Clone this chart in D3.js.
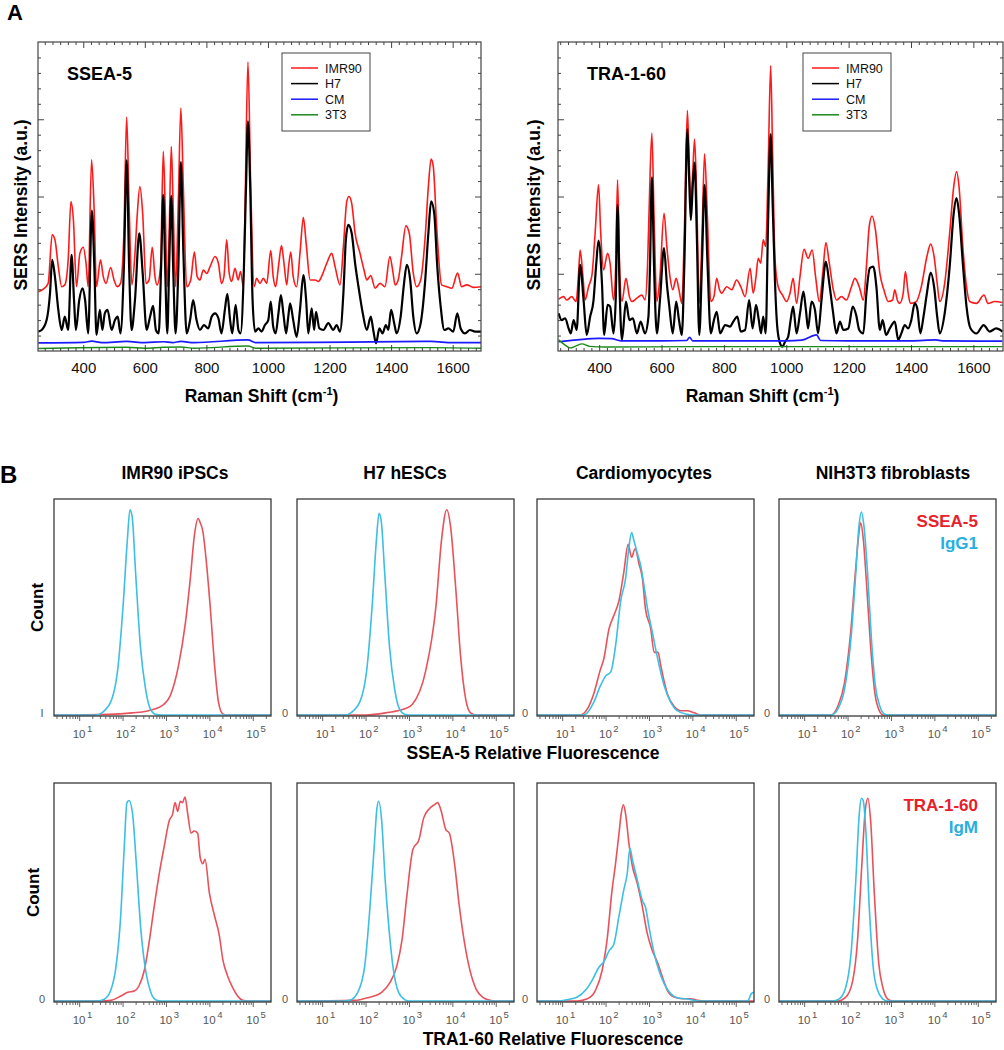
<!DOCTYPE html>
<html><head><meta charset="utf-8">
<script src="https://cdn.jsdelivr.net/npm/d3@7"></script>
<style>body{margin:0;background:#fff}svg{display:block}text{font-family:Arial,"Liberation Sans",sans-serif}</style>
</head><body><svg id="c" width="1004" height="1050"></svg>
<script>
// ---------------- DATA : Panel A (Raman shift cm-1, SERS intensity a.u.) ----------------
const ramanTicks = [400, 600, 800, 1000, 1200, 1400, 1600];
const seriesNames = ["IMR90", "H7", "CM", "3T3"];
const ssea5_IMR90 = [[254,19.2],[270,20.0],[286,21.9],[299,37.6],[308,36.0],[319,27.3],[330,20.8],[340,21.4],[351,29.5],[360,48.4],[368,42.4],[378,20.8],[389,31.6],[400,33.6],[409,28.4],[416,20.8],[427,61.9],[435,46.8],[443,20.8],[456,29.5],[465,24.1],[474,21.9],[489,27.0],[500,23.0],[510,20.8],[521,21.9],[532,38.1],[541,75.7],[549,46.8],[558,21.4],[568,31.6],[575,43.5],[584,53.2],[593,44.6],[604,21.9],[614,23.0],[624,33.6],[633,24.1],[640,21.4],[651,27.3],[660,64.6],[666,46.8],[673,20.8],[679,38.1],[686,66.2],[692,46.8],[700,20.8],[709,48.9],[717,78.6],[725,53.2],[736,20.8],[749,23.0],[761,32.0],[770,24.1],[779,23.0],[790,26.2],[801,25.1],[812,27.3],[828,30.6],[839,28.4],[849,21.9],[857,24.1],[866,36.0],[874,25.2],[882,22.5],[893,26.8],[903,23.0],[911,25.7],[920,20.8],[926,48.9],[935,93.5],[944,53.2],[955,20.8],[963,23.5],[974,21.9],[985,23.5],[996,21.9],[1009,32.5],[1017,24.1],[1025,20.8],[1034,27.3],[1044,34.1],[1052,28.4],[1061,21.4],[1067,27.3],[1074,32.0],[1082,24.1],[1093,20.8],[1104,31.6],[1115,43.2],[1124,34.9],[1137,23.0],[1153,23.0],[1164,22.5],[1174,24.1],[1191,28.4],[1207,31.6],[1218,27.3],[1234,21.4],[1245,33.8],[1256,48.4],[1263,50.0],[1272,47.8],[1283,38.1],[1299,31.6],[1312,26.2],[1321,23.0],[1334,24.4],[1348,20.3],[1364,21.9],[1380,20.8],[1396,30.6],[1405,26.2],[1413,21.4],[1423,23.0],[1434,30.6],[1448,40.5],[1459,38.1],[1472,25.2],[1483,20.8],[1496,23.0],[1510,36.0],[1521,53.2],[1530,62.1],[1537,59.7],[1548,40.3],[1564,21.4],[1581,20.8],[1597,20.3],[1616,25.2],[1629,20.8],[1646,21.4],[1667,20.6],[1692,20.8]];
const ssea5_H7 = [[254,6.3],[265,6.8],[281,10.0],[292,18.7],[299,29.5],[308,24.1],[319,13.3],[330,6.8],[340,11.1],[351,6.8],[362,31.1],[370,16.5],[376,6.8],[387,16.5],[398,20.3],[406,16.5],[416,5.7],[428,45.4],[436,27.3],[443,5.2],[454,13.3],[462,6.8],[470,12.2],[479,13.3],[492,6.8],[503,10.0],[512,11.1],[521,5.7],[532,27.3],[541,61.7],[549,27.3],[557,6.8],[568,16.5],[582,38.1],[593,25.2],[606,6.8],[617,11.1],[627,14.6],[636,6.8],[645,5.7],[653,27.3],[660,50.5],[666,27.3],[673,5.7],[679,27.3],[686,50.2],[692,27.3],[700,5.7],[709,27.3],[717,61.1],[725,32.7],[736,5.7],[747,10.0],[757,16.5],[768,10.0],[779,6.8],[792,8.4],[806,7.3],[817,11.1],[828,12.2],[839,10.6],[849,5.7],[860,13.3],[868,18.5],[877,10.0],[884,5.7],[895,14.9],[904,6.8],[911,5.7],[922,27.3],[929,54.3],[935,74.3],[942,54.3],[950,16.5],[958,6.3],[969,7.3],[979,6.3],[990,8.4],[1001,10.0],[1009,16.0],[1017,7.9],[1025,5.7],[1034,12.2],[1042,18.1],[1050,12.2],[1059,5.7],[1066,11.1],[1072,15.4],[1082,10.0],[1093,4.6],[1104,13.3],[1115,24.6],[1124,16.5],[1131,5.7],[1142,13.8],[1150,6.8],[1156,12.7],[1167,7.3],[1180,6.8],[1196,9.0],[1212,6.8],[1223,8.4],[1234,6.3],[1245,18.7],[1253,36.0],[1261,40.8],[1272,38.1],[1283,28.4],[1294,20.8],[1308,12.2],[1321,6.8],[1334,11.1],[1342,6.8],[1351,2.5],[1362,7.3],[1372,5.7],[1383,8.4],[1391,6.8],[1400,13.3],[1410,9.0],[1418,5.7],[1431,11.1],[1442,21.9],[1451,27.9],[1462,23.0],[1472,11.1],[1483,5.7],[1496,9.0],[1510,21.9],[1521,38.1],[1530,48.4],[1540,44.6],[1550,27.3],[1561,14.4],[1573,6.8],[1586,7.3],[1602,6.3],[1615,12.2],[1626,7.3],[1640,5.7],[1656,6.8],[1673,6.3],[1692,6.3]];
const ssea5_CM = [[254,2.6],[400,2.8],[428,3.2],[460,2.7],[541,3.1],[600,2.7],[660,3.0],[690,2.7],[717,3.1],[760,2.7],[935,3.6],[960,2.7],[1262,2.9],[1530,3.1],[1600,2.7],[1692,2.7]];
const ssea5_3T3 = [[254,0.8],[541,1.2],[600,0.9],[660,1.2],[717,1.3],[760,0.9],[935,1.6],[960,0.9],[1530,1.1],[1692,0.9]];
const tra160_IMR90 = [[270,16.8],[286,17.6],[296,16.5],[312,17.6],[326,16.0],[334,25.2],[339,32.7],[348,24.1],[355,16.5],[366,20.8],[377,24.6],[387,38.1],[398,53.8],[405,38.1],[414,26.2],[427,31.6],[435,28.4],[446,16.5],[453,27.3],[459,55.4],[465,29.5],[473,16.0],[486,23.5],[497,17.6],[505,16.0],[521,17.1],[537,18.1],[547,16.5],[555,27.3],[561,48.9],[569,70.5],[576,43.5],[585,16.0],[595,24.1],[608,44.6],[617,33.8],[627,24.1],[636,19.8],[647,23.5],[656,19.8],[665,15.4],[673,38.1],[683,77.8],[689,59.7],[694,48.9],[700,57.6],[706,68.6],[713,48.9],[721,15.4],[730,38.1],[738,63.8],[747,43.5],[758,16.0],[768,17.6],[777,23.5],[786,19.8],[793,18.7],[809,20.8],[825,19.8],[841,23.0],[854,20.8],[868,17.6],[884,26.8],[894,18.7],[903,24.1],[910,30.0],[918,28.4],[926,36.0],[934,33.8],[942,59.7],[950,92.4],[956,65.1],[964,29.5],[974,20.8],[988,18.1],[1001,16.0],[1012,18.7],[1022,23.5],[1033,15.4],[1044,24.1],[1057,32.9],[1070,30.0],[1083,32.7],[1094,24.1],[1106,16.0],[1117,25.2],[1127,35.1],[1138,28.4],[1151,19.8],[1161,16.5],[1177,17.6],[1193,16.5],[1209,20.8],[1220,23.5],[1234,20.8],[1247,16.5],[1257,27.3],[1266,40.3],[1275,43.7],[1286,39.2],[1300,25.2],[1313,19.8],[1327,16.0],[1341,16.5],[1348,19.8],[1356,16.5],[1364,15.4],[1375,18.7],[1382,25.7],[1391,18.7],[1398,15.4],[1417,16.0],[1433,20.8],[1451,30.6],[1463,34.6],[1474,30.6],[1484,21.9],[1492,16.0],[1508,21.9],[1524,38.1],[1537,53.2],[1546,58.1],[1554,53.2],[1567,32.7],[1578,20.8],[1588,16.0],[1610,15.4],[1634,18.1],[1647,15.4],[1668,16.0],[1693,15.7]];
const tra160_H7 = [[270,12.2],[280,10.0],[291,10.6],[302,7.3],[309,5.7],[318,10.0],[328,6.8],[339,27.9],[350,16.5],[360,5.2],[371,11.1],[382,16.5],[390,27.3],[398,35.7],[409,21.9],[416,5.2],[427,14.9],[435,14.4],[446,5.7],[453,16.5],[459,47.3],[465,21.9],[473,3.6],[486,16.0],[497,10.0],[508,10.6],[521,5.7],[533,9.5],[547,5.7],[558,11.1],[563,27.3],[569,56.2],[576,27.3],[585,5.7],[595,16.5],[608,33.3],[617,21.9],[625,14.4],[636,5.7],[647,16.0],[656,10.0],[665,5.2],[673,27.3],[683,71.8],[689,54.3],[694,42.4],[700,53.2],[706,61.0],[713,38.1],[721,5.2],[730,29.5],[738,53.8],[747,29.5],[758,5.7],[768,10.0],[777,12.7],[788,5.7],[804,8.4],[820,7.9],[830,9.5],[843,11.1],[854,6.3],[868,6.8],[881,16.5],[892,7.3],[903,14.9],[912,10.0],[919,5.7],[926,11.1],[934,5.7],[942,43.5],[950,70.2],[956,48.9],[964,21.9],[971,7.9],[980,2.5],[988,1.4],[996,3.0],[1006,4.6],[1014,10.0],[1022,14.4],[1033,5.7],[1044,12.2],[1055,19.2],[1063,13.3],[1070,7.3],[1081,16.0],[1092,13.3],[1102,5.7],[1113,16.5],[1127,28.9],[1138,21.9],[1149,13.3],[1161,5.7],[1172,9.5],[1183,6.8],[1199,7.3],[1213,14.4],[1224,11.7],[1234,6.8],[1247,5.7],[1257,18.7],[1268,26.8],[1279,27.3],[1289,20.8],[1300,6.8],[1309,10.0],[1320,5.2],[1332,7.3],[1348,9.5],[1359,3.6],[1369,5.7],[1380,8.4],[1391,7.3],[1401,10.0],[1412,15.4],[1420,13.8],[1430,5.7],[1440,11.1],[1451,18.7],[1463,25.4],[1474,20.8],[1484,11.1],[1492,5.7],[1508,12.2],[1524,27.3],[1537,44.6],[1546,49.5],[1554,44.6],[1567,27.3],[1578,14.4],[1591,7.3],[1610,5.7],[1633,8.4],[1652,6.3],[1673,7.3],[1693,6.3]];
const tra160_CM = [[270,3.0],[330,3.6],[400,4.1],[440,4.0],[470,3.3],[600,3.3],[680,3.4],[690,4.4],[700,3.3],[900,3.3],[1000,3.3],[1050,3.5],[1097,5.2],[1110,3.4],[1200,3.3],[1400,3.3],[1480,3.6],[1500,3.3],[1693,3.2]];
const tra160_3T3 = [[270,3.6],[290,2.0],[307,1.0],[325,1.6],[345,2.3],[370,1.5],[420,1.3],[700,1.4],[1000,1.4],[1693,1.4]];

// ---------------- DATA : Panel B (log10 fluorescence, % of max count) ----------------
const fluoDecades = [1, 2, 3, 4, 5];
const cellTypes = ["IMR90 iPSCs", "H7 hESCs", "Cardiomyocytes", "NIH3T3 fibroblasts"];
const ssea5_IMR90_stain = [[0.42,0],[1.68,0.3],[2.22,1],[2.6,2],[2.91,4.3],[3.10,9],[3.29,23],[3.45,43],[3.56,63],[3.66,84],[3.74,91],[3.79,89],[3.85,85],[3.92,73],[4.02,50],[4.12,23],[4.21,6],[4.31,0.5],[4.4,0],[5.42,0]];
const ssea5_IMR90_iso = [[0.42,0],[1.38,0],[1.68,4.3],[1.88,19.7],[2.01,50],[2.11,81],[2.17,95],[2.22,92],[2.30,66],[2.41,32],[2.53,12],[2.64,2.8],[2.76,0.3],[2.9,0],[5.42,0]];
const ssea5_H7_stain = [[0.42,0],[2.0,0],[2.46,1],[2.92,3],[3.08,5],[3.38,20],[3.62,50],[3.75,81],[3.87,95],[3.96,87],[4.08,58],[4.19,27],[4.31,7],[4.42,1],[4.55,0],[5.42,0]];
const ssea5_H7_iso = [[0.42,0],[1.52,0],[1.82,4.3],[2.02,19.7],[2.15,50],[2.25,81],[2.31,93.4],[2.36,90],[2.44,66],[2.55,32],[2.67,12],[2.78,2.8],[2.9,0.3],[3.0,0],[5.42,0]];
const ssea5_CM_stain = [[0.42,0],[1.42,0],[1.58,2.8],[1.73,10],[1.88,21],[1.96,26],[2.08,40],[2.19,46],[2.31,53],[2.42,66],[2.52,79],[2.6,73],[2.68,77],[2.77,70],[2.85,63],[2.92,49],[3.04,40],[3.12,29],[3.21,29],[3.27,23],[3.42,10],[3.58,4],[3.73,2],[3.88,2],[4.04,1],[4.19,0],[5.42,0]];
const ssea5_CM_iso = [[0.42,0],[1.5,0],[1.73,6],[1.88,13.5],[2.0,18],[2.12,20],[2.23,32],[2.35,53],[2.46,63],[2.54,78],[2.6,84.5],[2.65,81],[2.73,75],[2.81,69],[2.9,58],[2.96,50],[3.08,38],[3.19,27],[3.35,13.5],[3.5,6],[3.65,2],[3.88,0.3],[4.0,0],[5.42,0]];
const ssea5_3T3_stain = [[0.42,0],[1.62,0],[1.78,4.3],[1.93,15],[2.07,38],[2.18,66],[2.26,84],[2.30,89],[2.36,82],[2.43,63],[2.53,32],[2.63,10],[2.73,2],[2.82,0],[5.42,0]];
const ssea5_3T3_iso = [[0.42,0],[1.62,0],[1.78,3],[1.93,12],[2.09,38],[2.19,66],[2.26,87],[2.32,94],[2.38,87],[2.46,66],[2.55,35],[2.64,13.5],[2.74,4.3],[2.86,0.3],[2.95,0],[5.42,0]];
const tra160_IMR90_stain = [[0.42,0],[1.5,0],[1.73,0.3],[1.96,2.3],[2.12,4],[2.27,4.6],[2.38,7],[2.5,14],[2.62,28],[2.73,43.5],[2.85,59],[2.96,71],[3.08,83],[3.15,85.5],[3.21,91],[3.27,87],[3.33,91.6],[3.38,91],[3.44,93.6],[3.5,86],[3.58,77],[3.65,78],[3.73,77],[3.79,65.6],[3.85,63],[3.9,65],[4.0,49.6],[4.12,39],[4.23,30],[4.31,19],[4.42,11.5],[4.54,6],[4.65,2.3],[4.77,0.3],[4.9,0],[5.42,0]];
const tra160_IMR90_iso = [[0.42,0],[1.42,0],[1.58,0.8],[1.73,5],[1.85,16],[1.95,37],[2.04,71],[2.1,91],[2.15,92],[2.23,86],[2.31,65],[2.42,33],[2.54,13],[2.65,4],[2.77,0.5],[2.9,0],[5.42,0]];
const tra160_H7_stain = [[0.42,0],[1.74,0.3],[2.05,1.5],[2.37,4],[2.56,8.4],[2.72,16],[2.84,28],[2.95,48],[3.09,69.5],[3.23,74],[3.34,84],[3.46,88],[3.58,90],[3.66,91],[3.73,88],[3.85,78.6],[3.93,77],[4.05,63],[4.16,43.5],[4.28,26.7],[4.4,14.5],[4.55,5.3],[4.71,1.5],[4.87,0.3],[5.0,0],[5.42,0]];
const tra160_H7_iso = [[0.42,0],[1.5,0],[1.63,0.3],[1.82,4],[1.98,16],[2.09,40],[2.2,71],[2.26,88],[2.3,91.6],[2.37,83],[2.45,56],[2.54,33],[2.64,14.5],[2.76,4],[2.91,0.5],[3.0,0],[5.42,0]];
const tra160_CM_stain = [[0.42,0],[1.35,0],[1.58,1],[1.77,5],[1.92,14],[2.04,29],[2.15,51],[2.23,63],[2.31,77],[2.36,86],[2.41,90],[2.46,86],[2.54,72],[2.62,61.7],[2.73,54],[2.85,43],[2.96,31],[3.08,23],[3.19,18],[3.31,11],[3.42,5],[3.58,1.8],[3.77,1],[3.96,1],[4.12,0.3],[4.27,0],[5.42,0]];
const tra160_CM_iso = [[0.42,0],[0.9,0],[1.12,0.6],[1.35,1.8],[1.54,5],[1.69,9.5],[1.85,15.6],[1.96,18],[2.08,23],[2.19,26],[2.31,39],[2.42,51],[2.5,58.6],[2.56,70],[2.62,64.7],[2.73,55.5],[2.85,46],[2.92,43],[3.0,34],[3.12,21.8],[3.23,14],[3.35,8],[3.5,3.4],[3.65,1.5],[3.85,1],[4.04,0.3],[4.19,0],[5.27,0],[5.36,3.4],[5.42,4]];
const tra160_3T3_stain = [[0.42,0],[1.77,0],[1.96,1.8],[2.12,9.5],[2.23,28],[2.33,63],[2.41,88],[2.47,93],[2.53,83],[2.62,48],[2.72,17],[2.81,6.4],[2.92,1],[3.04,0],[5.42,0]];
const tra160_3T3_iso = [[0.42,0],[1.65,0],[1.81,1],[1.96,6.4],[2.08,21.8],[2.19,55.5],[2.27,86],[2.32,93],[2.36,92],[2.42,78.5],[2.5,43],[2.59,15.6],[2.69,5],[2.81,1],[2.92,0],[5.42,0]];

// ---------------- DRAWING ----------------
const svg = d3.select("#c");
const defs = svg.append("defs");
const C = {red:"#ff1a1a", black:"#000", blue:"#1a1aff", green:"#1a8a1a", hRed:"#e8525b", hCyan:"#3cbfe2"};

function spectrumPanel(cfg){
  const x = d3.scaleLinear().domain(cfg.domain).range([cfg.x0, cfg.x1]);
  const y = d3.scaleLinear().domain([0, 100]).range([cfg.y1, cfg.y0]);
  const g = svg.append("g");
  defs.append("clipPath").attr("id", "clip" + cfg.id).append("rect")
    .attr("x", cfg.x0).attr("y", cfg.y0).attr("width", cfg.x1 - cfg.x0).attr("height", cfg.y1 - cfg.y0);
  const line = d3.line().x(d => x(d[0])).y(d => y(d[1])).curve(d3.curveMonotoneX);
  const colors = [C.red, C.black, C.blue, C.green];
  const widths = [1.6, 2.2, 1.7, 1.4];
  cfg.series.forEach((s, i) => {
    g.append("path").attr("clip-path", `url(#clip${cfg.id})`).attr("d", line(s))
      .attr("fill", "none").attr("stroke", colors[i]).attr("stroke-width", widths[i]).attr("stroke-linejoin", "round");
  });
  const minorX = d3.range(275, cfg.domain[1], 25).filter(v => v % 200 !== 0);
  const mk = (axis, tr) => { const a = g.append("g").attr("transform", tr).call(axis); a.select(".domain").remove(); a.selectAll("line").attr("stroke", "#444"); return a; };
  const bx = mk(d3.axisBottom(x).tickValues(ramanTicks).tickFormat(d3.format("d")).tickSize(-6).tickSizeOuter(0).tickPadding(11), `translate(0,${cfg.y1})`);
  bx.selectAll("text").attr("font-size", 15).attr("fill", "#111").attr("font-family", 'Arial,"Liberation Sans",sans-serif');
  mk(d3.axisBottom(x).tickValues(minorX).tickSize(-3).tickFormat(""), `translate(0,${cfg.y1})`);
  mk(d3.axisTop(x).tickValues(ramanTicks).tickSize(-6).tickFormat(""), `translate(0,${cfg.y0})`);
  mk(d3.axisTop(x).tickValues(minorX).tickSize(-3).tickFormat(""), `translate(0,${cfg.y0})`);
  const majY = [25, 50, 75], minY = d3.range(5, 100, 5).filter(v => v % 25 !== 0);
  mk(d3.axisLeft(y).tickValues(majY).tickSize(-6).tickFormat(""), `translate(${cfg.x0},0)`);
  mk(d3.axisLeft(y).tickValues(minY).tickSize(-3).tickFormat(""), `translate(${cfg.x0},0)`);
  mk(d3.axisRight(y).tickValues(majY).tickSize(-6).tickFormat(""), `translate(${cfg.x1},0)`);
  mk(d3.axisRight(y).tickValues(minY).tickSize(-3).tickFormat(""), `translate(${cfg.x1},0)`);
  g.append("rect").attr("x", cfg.x0).attr("y", cfg.y0).attr("width", cfg.x1 - cfg.x0).attr("height", cfg.y1 - cfg.y0)
    .attr("fill", "none").attr("stroke", "#444").attr("stroke-width", 1.2);
  g.append("text").attr("x", cfg.x0 + 29).attr("y", 80).attr("font-size", 18).attr("font-weight", "bold").text(cfg.label);
  const lg = g.append("g").attr("transform", `translate(${cfg.legX},53)`);
  lg.append("rect").attr("width", 88).attr("height", 78).attr("fill", "#fff").attr("stroke", "#444").attr("stroke-width", 1);
  seriesNames.forEach((n, i) => {
    const yy = 15 + i * 15.6;
    lg.append("line").attr("x1", 9).attr("x2", 36).attr("y1", yy).attr("y2", yy).attr("stroke", colors[i]).attr("stroke-width", 1.5);
    lg.append("text").attr("x", 43).attr("y", yy + 4.5).attr("font-size", 12.5).attr("fill", "#111").text(n);
  });
  const t = g.append("text").attr("x", (cfg.x0 + cfg.x1) / 2 + cfg.titleDx).attr("y", 402).attr("text-anchor", "middle")
    .attr("font-size", 17.5).attr("font-weight", "bold").text("Raman Shift (cm");
  t.append("tspan").attr("font-size", 11).attr("dy", -7).text("-1");
  t.append("tspan").attr("dy", 7).text(")");
  g.append("text").attr("transform", `translate(${cfg.yTitleX},205) rotate(-90)`).attr("text-anchor", "middle")
    .attr("font-size", 17.5).attr("font-weight", "bold").text("SERS Intensity (a.u.)");
}

spectrumPanel({id:"L", x0:38, x1:481, y0:42, y1:351, domain:[253,1692], label:"SSEA-5", legX:282, titleDx:2, yTitleX:27,
  series:[ssea5_IMR90, ssea5_H7, ssea5_CM, ssea5_3T3]});
spectrumPanel({id:"R", x0:558, x1:1003, y0:42, y1:351, domain:[268,1695], label:"TRA-1-60", legX:803, titleDx:-18, yTitleX:540,
  series:[tra160_IMR90, tra160_H7, tra160_CM, tra160_3T3]});

svg.append("text").attr("x", 7).attr("y", 20).attr("font-size", 22).attr("font-weight", "bold").text("A");
svg.append("text").attr("x", 0).attr("y", 483).attr("font-size", 24).attr("font-weight", "bold").text("B");

// ---------------- Panel B ----------------
const colX = [54, 297, 537, 779], boxW = 217;
const titleCx = [175, 405, 644, 893];
cellTypes.forEach((c, i) => svg.append("text").attr("x", titleCx[i]).attr("y", 479).attr("text-anchor", "middle")
  .attr("font-size", 17.5).attr("font-weight", "bold").text(c));

const rows = [
  {y0:499, y1:716, data:[[ssea5_IMR90_stain, ssea5_IMR90_iso],[ssea5_H7_stain, ssea5_H7_iso],[ssea5_CM_stain, ssea5_CM_iso],[ssea5_3T3_stain, ssea5_3T3_iso]],
   zero:["I","0","0","0"], xTitle:"SSEA-5 Relative Fluorescence", xTitleX:533, legend:["SSEA-5","IgG1"]},
  {y0:783, y1:1002, data:[[tra160_IMR90_stain, tra160_IMR90_iso],[tra160_H7_stain, tra160_H7_iso],[tra160_CM_stain, tra160_CM_iso],[tra160_3T3_stain, tra160_3T3_iso]],
   zero:["0","0","0","0"], xTitle:"TRA1-60 Relative Fluorescence", xTitleX:553, legend:["TRA-1-60","IgM"]}
];
const minorLog = [];
for (let d = 0; d <= 5; d++) for (let k = 2; k <= 9; k++) { const v = d + Math.log10(k); if (v > 0.42 && v < 5.42) minorLog.push(v); }

rows.forEach((r, ri) => {
  colX.forEach((x0, ci) => {
    const x = d3.scaleLinear().domain([0.42, 5.42]).range([x0, x0 + boxW]);
    const y = d3.scaleLinear().domain([0, 100]).range([r.y1 - 1, r.y0]);
    const g = svg.append("g");
    const line = d3.line().x(d => x(d[0])).y(d => y(d[1])).curve(d3.curveMonotoneX);
    const [stain, iso] = r.data[ci];
    g.append("path").attr("d", line(stain)).attr("fill", "none").attr("stroke", C.hRed).attr("stroke-width", 1.6);
    g.append("path").attr("d", line(iso)).attr("fill", "none").attr("stroke", C.hCyan).attr("stroke-width", 1.6);
    g.append("rect").attr("x", x0).attr("y", r.y0).attr("width", boxW).attr("height", r.y1 - r.y0)
      .attr("fill", "none").attr("stroke", "#3a3a3a").attr("stroke-width", 1.3);
    const a1 = g.append("g").attr("transform", `translate(0,${r.y1})`).call(d3.axisBottom(x).tickValues(fluoDecades).tickSize(5).tickFormat(""));
    const a2 = g.append("g").attr("transform", `translate(0,${r.y1})`).call(d3.axisBottom(x).tickValues(minorLog).tickSize(3).tickFormat(""));
    [a1, a2].forEach(a => { a.select(".domain").remove(); a.selectAll("line").attr("stroke", "#555").attr("stroke-width", 0.9); });
    fluoDecades.forEach(d => {
      const t = g.append("text").attr("x", x(d) - 6.5).attr("y", r.y1 + 22).attr("font-size", 11.5).attr("fill", "#555").text("10");
      t.append("tspan").attr("dy", -6).attr("dx", 1.5).attr("font-size", 9.5).text(d);
    });
    g.append("text").attr("x", x0 - 12).attr("y", r.y1 + 1).attr("text-anchor", "middle").attr("font-size", 11).attr("fill", "#555").text(r.zero[ci]);
  });
  const cy = (r.y0 + r.y1) / 2;
  svg.append("text").attr("transform", `translate(${ri === 0 ? 43 : 39},${cy}) rotate(-90)`).attr("text-anchor", "middle")
    .attr("font-size", 17).attr("font-weight", "bold").text("Count");
  svg.append("text").attr("x", r.xTitleX).attr("y", r.y1 + 43).attr("text-anchor", "middle").attr("font-size", 17.5).attr("font-weight", "bold").text(r.xTitle);
  svg.append("text").attr("x", 978).attr("y", r.y0 + 28).attr("text-anchor", "end").attr("font-size", 17).attr("font-weight", "bold").attr("fill", "#e8202a").text(r.legend[0]);
  svg.append("text").attr("x", 978).attr("y", r.y0 + 50).attr("text-anchor", "end").attr("font-size", 17).attr("font-weight", "bold").attr("fill", "#29aee0").text(r.legend[1]);
});
</script></body></html>
